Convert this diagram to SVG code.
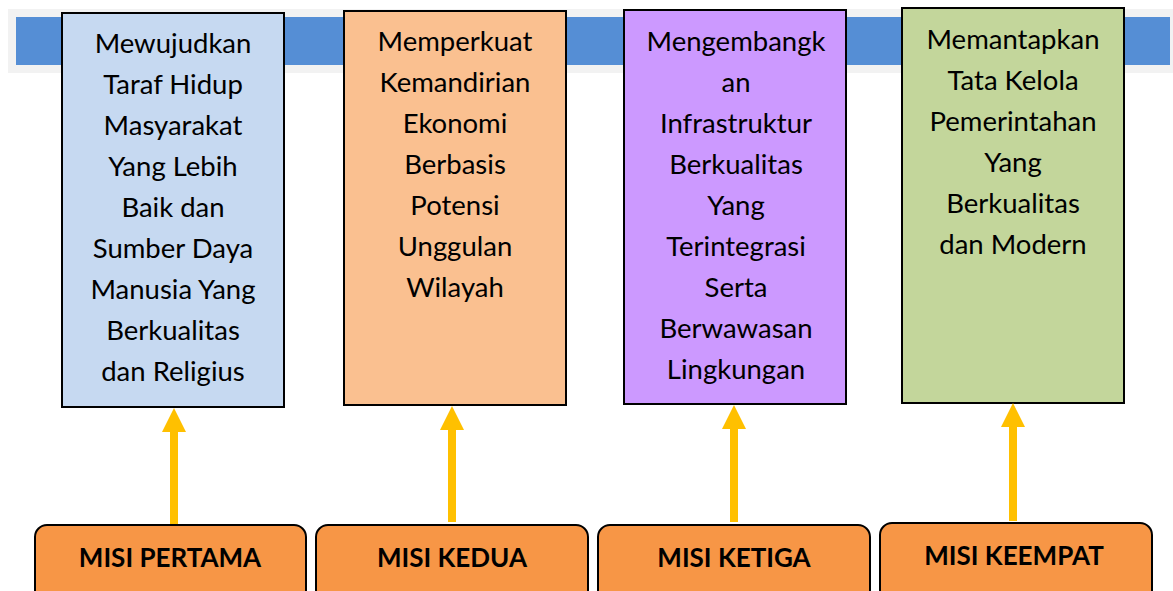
<svg xmlns="http://www.w3.org/2000/svg" width="1173" height="591" viewBox="0 0 1173 591">
<style>
.box{stroke:#000;stroke-width:2}
.t{font-family:Lato,"Open Sans",sans-serif;font-size:27.5px;fill:#000;text-anchor:middle}
.b{font-family:Lato,"Open Sans",sans-serif;font-size:26px;font-weight:bold;fill:#000;text-anchor:middle}
.m{fill:#F79646;stroke:#000;stroke-width:2}
</style>
<rect x="8" y="9" width="1165" height="64" fill="#F2F2F2"/>
<rect x="16" y="17" width="1154" height="48" fill="#558ED5"/>
<g id="visi1">
<rect class="box" x="62" y="13" width="222" height="394" fill="#C6D9F1"/>
<text class="t" x="173" y="53">Mewujudkan</text>
<text class="t" x="173" y="94">Taraf Hidup</text>
<text class="t" x="173" y="135">Masyarakat</text>
<text class="t" x="173" y="176">Yang Lebih</text>
<text class="t" x="173" y="217">Baik dan</text>
<text class="t" x="173" y="258">Sumber Daya</text>
<text class="t" x="173" y="299">Manusia Yang</text>
<text class="t" x="173" y="340">Berkualitas</text>
<text class="t" x="173" y="381">dan Religius</text>
</g>
<g id="visi2">
<rect class="box" x="344" y="11" width="222" height="394" fill="#FAC090"/>
<text class="t" x="455" y="51">Memperkuat</text>
<text class="t" x="455" y="92">Kemandirian</text>
<text class="t" x="455" y="133">Ekonomi</text>
<text class="t" x="455" y="174">Berbasis</text>
<text class="t" x="455" y="215">Potensi</text>
<text class="t" x="455" y="256">Unggulan</text>
<text class="t" x="455" y="297">Wilayah</text>
</g>
<g id="visi3">
<rect class="box" x="624" y="10" width="222" height="394" fill="#CC99FF"/>
<text class="t" x="736" y="51">Mengembangk</text>
<text class="t" x="736" y="92">an</text>
<text class="t" x="736" y="133">Infrastruktur</text>
<text class="t" x="736" y="174">Berkualitas</text>
<text class="t" x="736" y="215">Yang</text>
<text class="t" x="736" y="256">Terintegrasi</text>
<text class="t" x="736" y="297">Serta</text>
<text class="t" x="736" y="338">Berwawasan</text>
<text class="t" x="736" y="379">Lingkungan</text>
</g>
<g id="visi4">
<rect class="box" x="902" y="8" width="222" height="395" fill="#C3D69B"/>
<text class="t" x="1013" y="49">Memantapkan</text>
<text class="t" x="1013" y="90">Tata Kelola</text>
<text class="t" x="1013" y="131">Pemerintahan</text>
<text class="t" x="1013" y="172">Yang</text>
<text class="t" x="1013" y="213">Berkualitas</text>
<text class="t" x="1013" y="254">dan Modern</text>
</g>
<g id="connectors" fill="#FFC000">
<path d="M170,524 V432 H162 L174,408 L186,432 H178 V524 Z"/>
<path d="M448,522 V430 H440 L452,406 L464,430 H456 V522 Z"/>
<path d="M730,522 V429 H722 L734,405 L746,429 H738 V522 Z"/>
<path d="M1009,521 V427 H1001 L1013,403 L1025,427 H1017 V521 Z"/>
</g>
<g id="misi1">
<rect class="m" x="35" y="525" width="271" height="80" rx="12"/>
<text class="b" x="170" y="567">MISI PERTAMA</text>
</g>
<g id="misi2">
<rect class="m" x="316" y="525" width="272" height="80" rx="12"/>
<text class="b" x="452" y="567">MISI KEDUA</text>
</g>
<g id="misi3">
<rect class="m" x="598" y="525" width="272" height="80" rx="12"/>
<text class="b" x="734" y="567">MISI KETIGA</text>
</g>
<g id="misi4">
<rect class="m" x="880" y="523" width="272" height="82" rx="12"/>
<text class="b" x="1014" y="565">MISI KEEMPAT</text>
</g>
</svg>
